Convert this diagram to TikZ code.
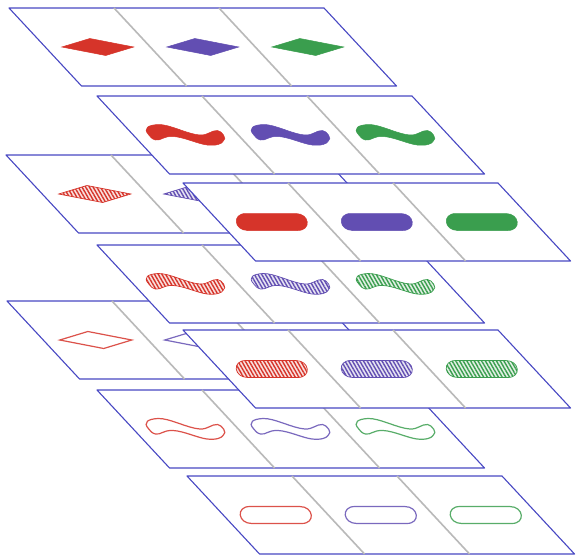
\documentclass[tikz,border=0pt]{standalone}
\usepackage{xcolor}
\usepackage{tikz}
\usetikzlibrary{patterns.meta}
\definecolor{setred}{RGB}{214,52,42}
\definecolor{setpurple}{RGB}{98,78,178}
\definecolor{setgreen}{RGB}{58,158,78}
\definecolor{sheetblue}{RGB}{72,72,195}
\tikzset{
sheet/.style={
draw=sheetblue,
fill=white,
line width=1.1pt,
line join=round
},
divider/.style={
draw=gray!55,
line width=1.6pt
},
solidset/.style={
fill=#1,
draw=#1,
line width=0.5pt
},
stripeset/.style={
draw=#1,
line width=0.7pt,
preaction={fill=#1!15},
pattern={Lines[angle=-60,distance=3.2pt,line width=1.4pt]},
pattern color=#1
},
openset/.style={
draw=#1!85,
line width=1.2pt
}
}
% shapes in card coordinates, centre of the card at (0,0)
\newcommand{\pathdiamond}{(-36,0) -- (0,-8.5) -- (36,0) -- (0,8.5) -- cycle}
\newcommand{\pathoval}{(-18.1,-8.5) -- (31.9,-8.5) .. controls (45.9,-8.5) and (32.1,8.5) .. (18.1,8.5)
 -- (-31.9,8.5) .. controls (-45.9,8.5) and (-32.1,-8.5) .. cycle}
\newcommand{\pathsquiggle}{(-37,0) .. controls (-37,-7) and (-28,-10) .. (-18,-10.5)
 .. controls (-6,-11) and (2,-1) .. (14,0) .. controls (22,0.5) and (30,-5) .. (36,-4.5)
 .. controls (40,-4) and (38,4) .. (32,6) .. controls (28,9) and (20,11) .. (12,10)
 .. controls (4,9) and (-4,2) .. (-14,1.5) .. controls (-24,1) and (-30,6) .. (-35,5)
 .. controls (-38,4) and (-37,2) .. cycle}
% one row of three cards: x, y, shape, filling
\newcommand{\cardrow}[4]{%
\begin{scope}[shift={(#1,#2)},xslant=-0.93]
\draw[sheet] (0,0) -- (315,0) -- (315,78) -- (0,78) -- cycle;
\draw[divider] (105,0) -- (105,78) (210,0) -- (210,78);
\foreach \col/\clr in {0/setred,1/setpurple,2/setgreen}
\path[#4=\clr,shift={(52.5+105*\col,39)}] #3;
\end{scope}}

\begin{document}
\begin{tikzpicture}[x=1pt,y=-1pt]
\useasboundingbox (0,0) rectangle (577,557);
% diamonds
\cardrow{9}{8}{\pathdiamond}{solidset}
\cardrow{6}{155}{\pathdiamond}{stripeset}
\cardrow{7}{301}{\pathdiamond}{openset}
% squiggles
\cardrow{97}{96}{\pathsquiggle}{solidset}
\cardrow{97}{245}{\pathsquiggle}{stripeset}
\cardrow{97}{390}{\pathsquiggle}{openset}
% ovals
\cardrow{183}{183}{\pathoval}{solidset}
\cardrow{183}{330}{\pathoval}{stripeset}
\cardrow{187}{476}{\pathoval}{openset}
\end{tikzpicture}
\end{document}
